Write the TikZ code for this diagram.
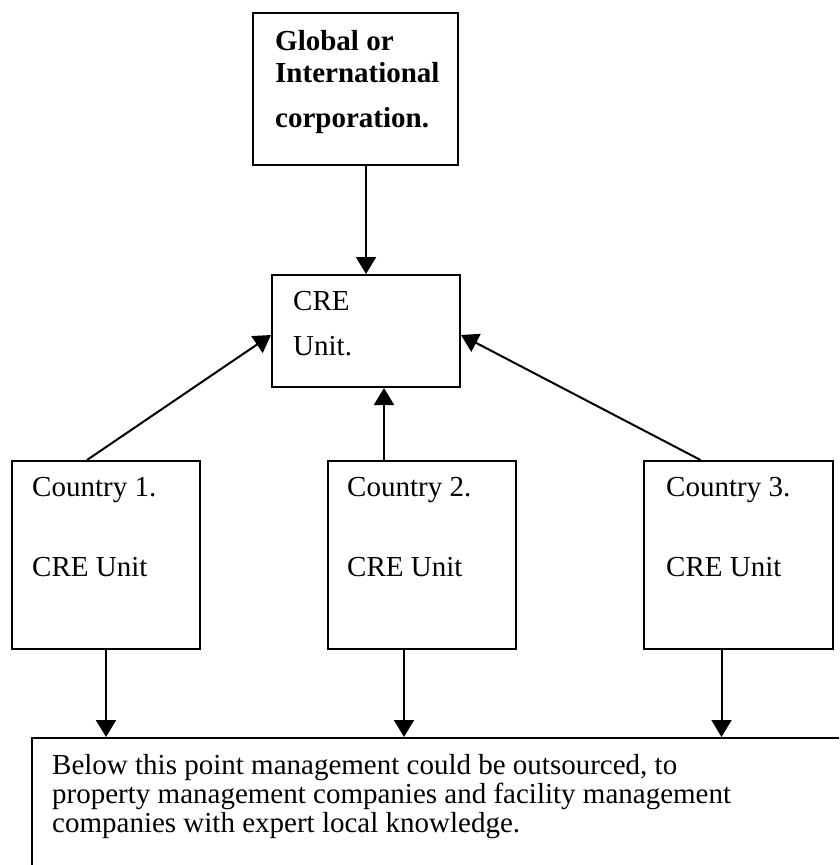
\documentclass[tikz,border=0pt]{standalone}
\usepackage{fontspec}
\setmainfont{Liberation Serif}
\usetikzlibrary{arrows.meta}
\begin{document}
\begin{tikzpicture}[
        x=1pt, y=-1pt,
        >={Triangle[length=17pt,width=20pt]},
        every node/.style={font=\fontsize{29}{32}\selectfont},
        box/.style={
            draw,
            line width=2pt,
            inner sep=0pt,
            minimum width=188pt,
            minimum height=188pt
        },
        boxtext/.style={anchor=base west, inner sep=0pt, align=left},
        link/.style={->, line width=2pt}
    ]
        \useasboundingbox (0,0) rectangle (839,865);
        \clip (0,0) rectangle (839,865);

        \node[box, minimum width=205pt, minimum height=152pt] (corp) at (355.5,89) {};
        \node[box, minimum height=112pt] (cre) at (366,331) {};
        \node[box] (country1) at (106,555) {};
        \node[box] (country2) at (422,555) {};
        \node[box, minimum width=189pt] (country3) at (738.5,555) {};
        \node[box, minimum width=828pt, minimum height=162pt] (outsourced) at (446,819) {};

        % text is placed by the baseline of its last line
        \node[boxtext, font=\bfseries\fontsize{29}{32}\selectfont] (corptext) at ([xshift=23pt, yshift=-115pt]corp.north west) {Global or\\International\\[13pt]corporation.};
        \node[boxtext] (cretext) at ([xshift=22pt, yshift=-81pt]cre.north west) {CRE\\[13pt]Unit.};
        \node[boxtext] (country1text) at ([xshift=21pt, yshift=-116pt]country1.north west) {Country 1.\\[48pt]CRE Unit};
        \node[boxtext] (country2text) at ([xshift=20pt, yshift=-116pt]country2.north west) {Country 2.\\[48pt]CRE Unit};
        \node[boxtext] (country3text) at ([xshift=23pt, yshift=-116pt]country3.north west) {Country 3.\\[48pt]CRE Unit};
        \node[boxtext, font=\fontsize{29}{29}\selectfont] (outsourcedtext) at ([xshift=21pt, yshift=-95pt]outsourced.north west) {Below this point management could be outsourced, to\\property management companies and facility management\\companies with expert local knowledge.};

        \draw[link] (corp.south -| cre.north) -- (cre.north);
        \draw[link] ([xshift=-19pt]country1.north) -- ([yshift=-4pt]cre.west);
        \draw[link] ([xshift=-38pt]country2.north) -- ([xshift=-38pt]country2.north |- cre.south);
        \draw[link] ([xshift=-38pt]country3.north) -- ([yshift=-4pt]cre.east);
        \draw[link] (country1.south) -- (country1.south |- outsourced.north);
        \draw[link] ([xshift=-18pt]country2.south) -- ([xshift=-18pt]country2.south |- outsourced.north);
        \draw[link] ([xshift=-17pt]country3.south) -- ([xshift=-17pt]country3.south |- outsourced.north);
    \end{tikzpicture}
\end{document}
